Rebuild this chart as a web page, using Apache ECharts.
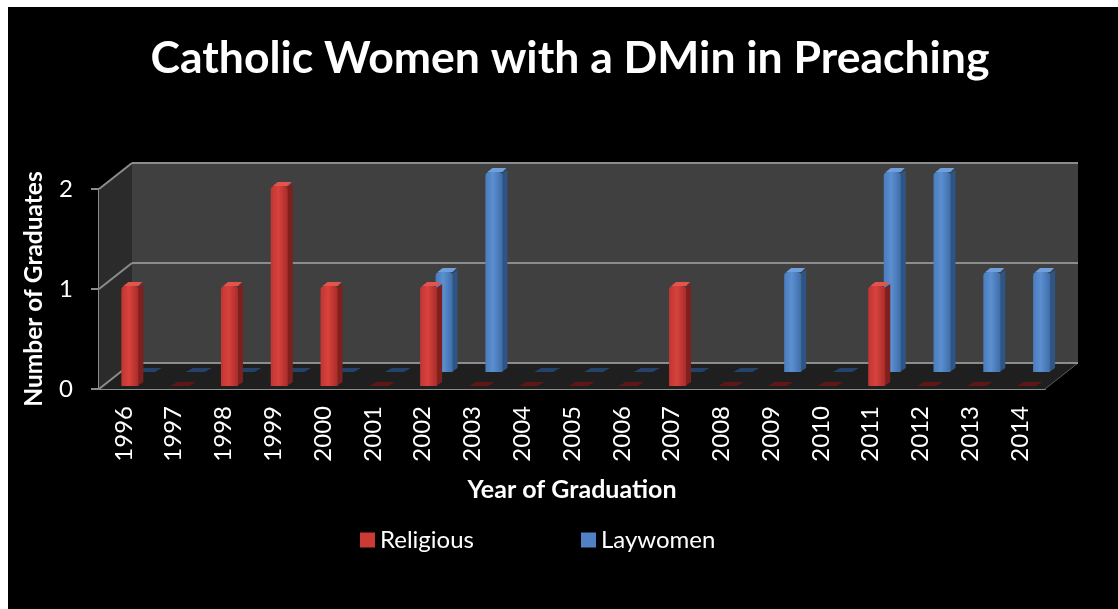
<!DOCTYPE html>
<html>
<head>
<meta charset="utf-8">
<script src="https://cdn.jsdelivr.net/npm/echarts@6/dist/echarts.min.js"></script>
<style>
html,body{margin:0;padding:0;background:#fff;}
#main{width:1118px;height:609px;}
</style>
</head>
<body>
<div id="main"></div>
<script>
var years = ['1996','1997','1998','1999','2000','2001','2002','2003','2004','2005','2006','2007','2008','2009','2010','2011','2012','2013','2014'];
var religious = [1,0,1,2,1,0,1,0,0,0,0,1,0,0,0,1,0,0,0];
var laywomen  = [0,0,0,0,0,0,1,2,0,0,0,0,0,1,0,2,2,1,1];
var yTicks = [0,1,2];

var FONT = 'Lato';
var DX = 33, DY = -26;      // depth of the 3D box
var BAR_W = 17, BD_X = 5, BD_Y = -4;

function barRenderer(sx, sy, front, side, top, flat) {
  return function (params, api) {
    var idx = api.value(0), val = api.value(1);
    var t = api.coord([idx, val]);
    var b = api.coord([idx, 0]);
    var cx = t[0] + sx;
    var x0 = cx - BAR_W / 2, x1 = cx + BAR_W / 2;
    var yb = b[1] + sy, yt = t[1] + sy;
    if (val <= 0) {
      return {
        type: 'polygon',
        shape: {points: [[x0 - 1, yb], [x0 + BD_X + 1, yb + BD_Y], [x1 + BD_X + 3, yb + BD_Y], [x1 + 1, yb]]},
        style: {fill: flat}
      };
    }
    return {
      type: 'group',
      children: [
        {type: 'polygon', shape: {points: [[x1 - 1, yt + 2], [x1 + BD_X, yt + BD_Y + 2], [x1 + BD_X, yb + BD_Y], [x1 - 1, yb]]}, style: {fill: side}},
        {type: 'polygon', shape: {points: [[x0 + 2, yt], [x0 + BD_X + 2, yt + BD_Y], [x1 + BD_X - 1, yt + BD_Y], [x1, yt]]}, style: {fill: top}},
        {type: 'rect', shape: {x: x0, y: yt, width: BAR_W, height: yb - yt, r: [4, 4, 0, 0]}, style: {fill: front}}
      ]
    };
  };
}

function grad(c0, c1, c2) {
  return new echarts.graphic.LinearGradient(0, 0, 1, 0, [
    {offset: 0, color: c0}, {offset: 0.45, color: c1}, {offset: 1, color: c2}
  ]);
}

function frameRenderer(params, api) {
  var cs = params.coordSys;
  var x = cs.x, y = cs.y, w = cs.width, h = cs.height;
  var children = [
    {type: 'polygon', shape: {points: [[x + DX, y + DY], [x + w + DX, y + DY], [x + w + DX, y + h + DY], [x + DX, y + h + DY]]}, style: {fill: '#404040'}},
    {type: 'polygon', shape: {points: [[x, y], [x + DX, y + DY], [x + DX, y + h + DY], [x, y + h]]}, style: {fill: '#2b2b2b'}},
    {type: 'polygon', shape: {points: [[x, y + h], [x + DX, y + h + DY], [x + w + DX, y + h + DY], [x + w, y + h]]}, style: {fill: '#1f1f1f'}},
    {type: 'line', shape: {x1: x + w, y1: y + h, x2: x + w + DX, y2: y + h + DY}, style: {stroke: '#5a5a5a', lineWidth: 1}}
  ];
  yTicks.forEach(function (v) {
    var p = api.coord([0, v]);
    var yy = p[1];
    children.push({type: 'line', shape: {x1: x + DX, y1: yy + DY, x2: x + w + DX, y2: yy + DY}, style: {stroke: '#8c8c8c', lineWidth: 2}});
    children.push({type: 'line', shape: {x1: x, y1: yy, x2: x + DX, y2: yy + DY}, style: {stroke: '#8c8c8c', lineWidth: 2}});
  });
  return {type: 'group', children: children};
}

var chart = echarts.init(document.getElementById('main'));
chart.setOption({
  backgroundColor: '#ffffff',
  animation: false,
  graphic: [{type: 'rect', shape: {x: 8, y: 7, width: 1110, height: 602}, style: {fill: '#000'}, z: -10, silent: true}],
  title: {
    text: 'Catholic Women with a DMin in Preaching',
    left: 565, top: 31, textAlign: 'center',
    textStyle: {color: '#fff', fontSize: 44.5, fontWeight: 'bold', fontFamily: FONT}
  },
  legend: {
    left: 355, top: 523,
    itemGap: 107, itemWidth: 15, itemHeight: 15, icon: 'rect',
    textStyle: {color: '#fff', fontSize: 24, fontFamily: FONT},
    data: ['Religious', 'Laywomen']
  },
  grid: {left: 99, top: 189, width: 946, height: 200},
  xAxis: {
    type: 'category', data: years,
    name: 'Year of Graduation', nameLocation: 'middle', nameGap: 88,
    nameTextStyle: {color: '#fff', fontSize: 25, fontWeight: 'bold', fontFamily: FONT},
    axisLine: {show: true, lineStyle: {color: '#8c8c8c', width: 2}},
    axisTick: {show: false},
    axisLabel: {rotate: 90, color: '#fff', fontSize: 24, fontFamily: FONT, margin: 17, interval: 0},
    splitLine: {show: false}
  },
  yAxis: {
    type: 'value', min: 0, max: 2, interval: 1,
    name: 'Number of Graduates', nameLocation: 'middle', nameGap: 52, nameRotate: 90,
    nameTextStyle: {color: '#fff', fontSize: 24.5, fontWeight: 'bold', fontFamily: FONT},
    axisLine: {show: true, lineStyle: {color: '#8c8c8c', width: 2}},
    axisTick: {show: true, length: 8, lineStyle: {color: '#8c8c8c', width: 2}},
    axisLabel: {color: '#fff', fontSize: 24, fontFamily: FONT, margin: 26},
    splitLine: {show: false}
  },
  series: [
    {
      type: 'custom', name: 'frame', silent: true, z: 1, clip: false,
      renderItem: frameRenderer, data: [[0, 0]], legendHoverLink: false
    },
    {
      type: 'custom', name: 'Laywomen', z: 2, clip: false,
      itemStyle: {color: '#4f81c4'},
      renderItem: barRenderer(21.5, -17,
        grad('#4a7dbd', '#5b8fd0', '#3f6da8'), '#2f5585', '#6f9fdc', '#24426a'),
      data: laywomen.map(function (v, i) { return [i, v]; })
    },
    {
      type: 'custom', name: 'Religious', z: 3, clip: false,
      itemStyle: {color: '#cc3a36'},
      renderItem: barRenderer(6, -3,
        grad('#c23532', '#d8423d', '#a82c29'), '#7f201e', '#e5534d', '#5e1716'),
      data: religious.map(function (v, i) { return [i, v]; })
    }
  ]
});
</script>
</body>
</html>
